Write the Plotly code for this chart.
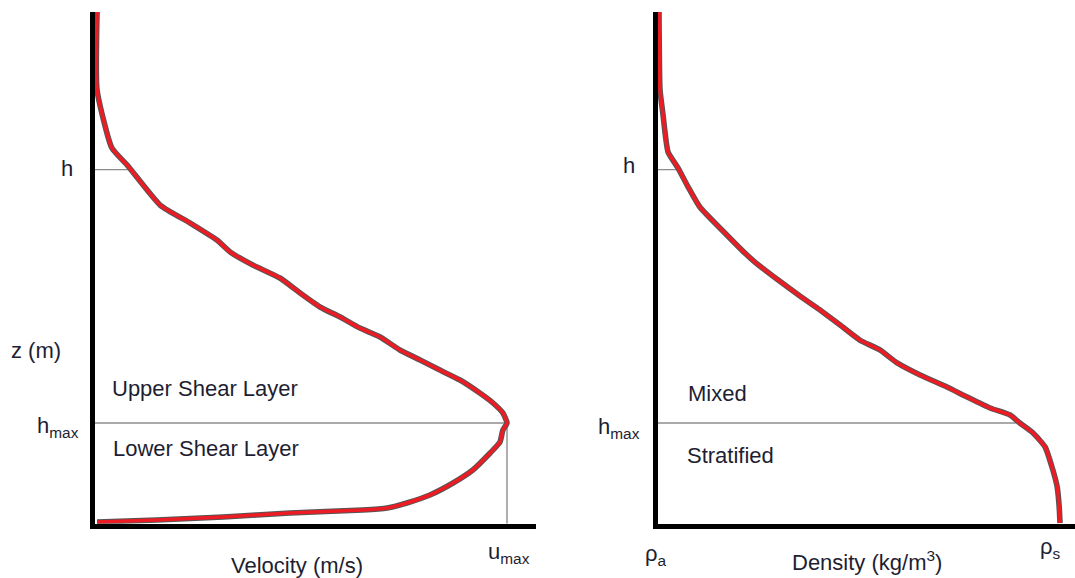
import plotly.graph_objects as go

# ---- profile data (normalised velocity / density vs height z in m) ----
z_h = 34.6        # top of the current, h
z_hmax = 9.84     # height of velocity maximum, hmax
u_max = 1.0       # normalised maximum velocity

vel_u = [0.005, 0.005, 0.041, 0.078, 0.158, 0.231, 0.296, 0.328, 0.383, 0.449,
         0.498, 0.546, 0.595, 0.643, 0.692, 0.740, 0.789, 0.837, 0.886, 0.934,
         0.966, 0.990, 1.000, 0.990, 0.983, 0.959, 0.917, 0.869, 0.813, 0.757,
         0.709, 0.650, 0.473, 0.311, 0.150, 0.005]
vel_z = [50.0, 42.38, 36.71, 35.05, 31.14, 29.38, 27.72, 26.55, 25.28, 24.01,
         22.54, 21.18, 20.20, 19.12, 18.25, 16.98, 16.00, 15.02, 14.04, 12.77,
         11.80, 10.82, 9.84, 9.16, 7.99, 6.91, 5.25, 3.98, 2.81, 2.03,
         1.54, 1.34, 1.05, 0.66, 0.37, 0.17]

rho_a = 0.0       # ambient density (normalised)
rho_s = 1.0       # sediment-laden density at the bed (normalised)
den_r = [0.0025, 0.005, 0.012, 0.025, 0.050, 0.075, 0.104, 0.159, 0.216, 0.241,
         0.299, 0.353, 0.403, 0.453, 0.502, 0.552, 0.595, 0.652, 0.719, 0.769,
         0.826, 0.876, 0.900, 0.933, 0.963, 0.980, 0.993, 0.998, 1.000]
den_z = [50.0, 42.38, 40.13, 36.32, 34.75, 32.90, 30.95, 28.70, 26.45, 25.57,
         23.81, 22.25, 20.88, 19.42, 17.95, 16.98, 15.71, 14.53, 13.36, 12.38,
         11.31, 10.62, 9.84, 8.87, 7.50, 5.54, 3.59, 1.64, 0.07]

W, H = 1075, 578
RED = "#ed1c24"
EDGE = "#555555"
GUIDE = "#8c8c8c"
TXT = "#1e1e32"
FONT = "Liberation Sans, Arial, sans-serif"


def px(x):
    return x / W


def py(y):
    return 1 - y / H


fig = go.Figure()


def profile(x, y, xa, ya):
    # dark halo underneath, red line on top
    fig.add_trace(go.Scatter(x=x, y=y, xaxis=xa, yaxis=ya, mode="lines",
                             line=dict(color=EDGE, width=5.6, shape="spline", smoothing=0.5),
                             hoverinfo="skip"))
    fig.add_trace(go.Scatter(x=x, y=y, xaxis=xa, yaxis=ya, mode="lines",
                             line=dict(color=RED, width=3.6, shape="spline", smoothing=0.5),
                             hoverinfo="skip"))


def guide(x, y, xa, ya):
    fig.add_trace(go.Scatter(x=x, y=y, xaxis=xa, yaxis=ya, mode="lines",
                             line=dict(color=GUIDE, width=1.4), hoverinfo="skip"))


# velocity panel guides
guide([0, 0.080], [z_h, z_h], "x", "y")
guide([0, u_max], [z_hmax, z_hmax], "x", "y")
guide([u_max, u_max], [z_hmax, 0], "x", "y")
profile(vel_u, vel_z, "x", "y")

# density panel guides
guide([0, 0.055], [z_h, z_h], "x2", "y2")
guide([0, 0.89], [z_hmax, z_hmax], "x2", "y2")
profile(den_r, den_z, "x2", "y2")

ax_common = dict(showgrid=False, zeroline=False, showticklabels=False,
                 ticks="", showline=True, linecolor="black", linewidth=5,
                 fixedrange=True)
y_dom = [py(523.75), py(12)]

fig.update_layout(
    width=W, height=H,
    margin=dict(l=0, r=0, t=0, b=0, pad=0),
    paper_bgcolor="white", plot_bgcolor="white",
    showlegend=False,
    xaxis=dict(domain=[px(95), px(536)], range=[0, 1.0704], anchor="y", **ax_common),
    yaxis=dict(domain=y_dom, range=[0, 50], anchor="x", **ax_common),
    xaxis2=dict(domain=[px(658), 1.0], range=[0, 1.0373], anchor="y2", **ax_common),
    yaxis2=dict(domain=y_dom, range=[0, 50], anchor="x2", **ax_common),
)


def label(text, x, y, xanchor="left", size=22):
    fig.add_annotation(text=text, x=px(x), y=py(y), xref="paper", yref="paper",
                       xanchor=xanchor, yanchor="middle", showarrow=False,
                       font=dict(family=FONT, size=size, color=TXT))


# velocity panel text
label("z (m)", 36, 350, "center")
label("h", 67, 168, "center")
label("h<sub>max</sub>", 35, 427)
label("Upper Shear Layer", 110, 388)
label("Lower Shear Layer", 111, 448)
label("Velocity (m/s)", 297, 565, "center")
label("u<sub>max</sub>", 486, 553)

# density panel text
label("h", 629, 165, "center")
label("h<sub>max</sub>", 596, 428)
label("Mixed", 686, 393)
label("Stratified", 685, 455)
label("ρ<sub>a</sub>", 643, 555)
label("Density (kg/m<sup>3</sup>)", 867, 561, "center")
label("ρ<sub>s</sub>", 1038, 548)

fig.write_html("out.html")
